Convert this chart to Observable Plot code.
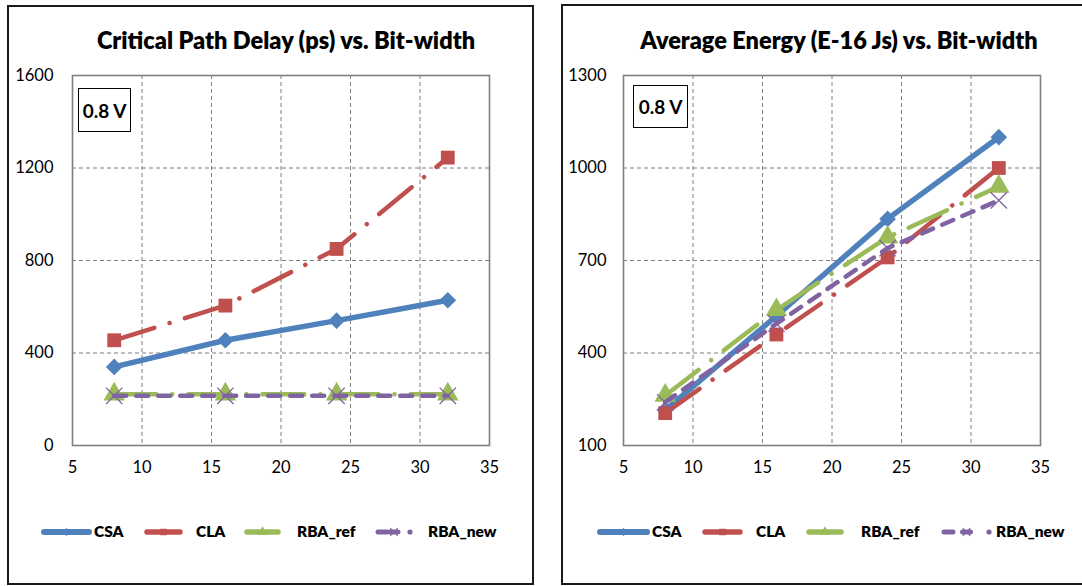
<!DOCTYPE html>
<html>
<head>
<meta charset="utf-8">
<script src="https://cdn.jsdelivr.net/npm/d3@7"></script>
<script src="https://cdn.jsdelivr.net/npm/@observablehq/plot@0.6"></script>
<style>
  html, body { margin: 0; padding: 0; background: #fff; width: 1082px; height: 586px; overflow: hidden; font-family: Lato, "Open Sans", sans-serif; }
  .panel { position: absolute; border: 2px solid #1a1a1a; box-sizing: border-box; background: #fff; }
  .title { position: absolute; font-weight: 800; font-size: 23.5px; white-space: nowrap; transform: translate(-50%, -50%); color: #000; }
  .vbox { position: absolute; border: 1.5px solid #000; box-sizing: border-box; font-weight: bold; font-size: 19px; display: flex; align-items: center; justify-content: center; background: #fff; }
  .chart { position: absolute; top: 0; }
  #overlay { position: absolute; left: 0; top: 0; pointer-events: none; }
</style>
</head>
<body>
<div class="panel" style="left:7px; top:5px; width:527px; height:580px;"></div>
<div class="panel" style="left:561px; top:4px; width:530px; height:581px;"></div>
<div class="chart" id="left" style="left:0px;"></div>
<div class="chart" id="right" style="left:541px;"></div>
<div class="title" style="left:286px; top:40px;">Critical Path Delay (ps) vs. Bit-width</div>
<div class="title" style="left:839px; top:40px;">Average Energy (E-16 Js) vs. Bit-width</div>
<div class="vbox" style="left:78px; top:88px; width:53px; height:44px;">0.8 V</div>
<div class="vbox" style="left:633px; top:85px; width:55px; height:43px;">0.8 V</div>
<svg id="overlay" width="1082" height="586"></svg>
<script>
// ---------------- data ----------------
const bitWidths = [8, 16, 24, 32];
const seriesNames = ["CSA", "CLA", "RBA_ref", "RBA_new"];

// Critical path delay (ps)
const delayCSA    = [340, 455, 540, 628];
const delayCLA    = [455, 605, 850, 1245];
const delayRBAref = [222, 222, 222, 222];
const delayRBAnew = [215, 215, 215, 215];

// Average energy (E-16 Js)
const energyCSA    = [215, 520, 835, 1100];
const energyCLA    = [205, 460, 710, 1000];
const energyRBAref = [262, 540, 775, 940];
const energyRBAnew = [240, 495, 740, 895];

const xTicks = [5, 10, 15, 20, 25, 30, 35];
const delayTicks = [0, 400, 800, 1200, 1600];
const energyTicks = [100, 400, 700, 1000, 1300];

// ---------------- styles ----------------
const styles = {
  CSA:     {color: "#4F81BD", width: 5.5, dash: null,           symbol: "diamond2", r: 7.5},
  CLA:     {color: "#C0504D", width: 4.5, dash: "42,16,0.1,16", symbol: "square",   r: 7.8},
  RBA_ref: {color: "#9BBB59", width: 4.5, dash: "42,16,0.1,16", symbol: "triangle", r: 8},
  RBA_new: {color: "#8064A2", width: 4.5, dash: "12,10",        symbol: "times",    r: 7.5}
};

function toRows(arrays) {
  const rows = [];
  seriesNames.forEach((s, k) => {
    bitWidths.forEach((b, i) => rows.push({series: s, bits: b, value: arrays[k][i]}));
  });
  return rows;
}

function seriesMarks(rows) {
  const marks = [];
  for (const s of seriesNames) {
    const st = styles[s];
    const d = rows.filter(r => r.series === s);
    marks.push(Plot.line(d, {
      x: "bits", y: "value", stroke: st.color, strokeWidth: st.width,
      strokeDasharray: st.dash || undefined, strokeLinecap: "round", strokeLinejoin: "round"
    }));
    if (st.symbol === "times") {
      marks.push(Plot.dot(d, {x: "bits", y: "value", symbol: "times", r: st.r, stroke: st.color, strokeWidth: 1.3, fill: "none"}));
    } else {
      marks.push(Plot.dot(d, {x: "bits", y: "value", symbol: st.symbol, r: st.r, fill: st.color, stroke: "none"}));
    }
  }
  return marks;
}

function makeChart(rows, yDomain, yTicks, opts) {
  return Plot.plot({
    width: opts.width, height: 500,
    marginLeft: opts.ml, marginRight: opts.mr, marginTop: 75, marginBottom: 55,
    style: {fontFamily: "Lato, 'Open Sans', sans-serif", fontSize: "16.5px", color: "#000", background: "transparent", overflow: "visible"},
    x: {domain: [5, 35]},
    y: {domain: yDomain},
    marks: [
      Plot.gridX(xTicks.slice(1, -1), {stroke: "#7f7f7f", strokeOpacity: 1, strokeWidth: 1, strokeDasharray: "4,3"}),
      Plot.gridY(yTicks.slice(1, -1), {stroke: "#7f7f7f", strokeOpacity: 1, strokeWidth: 1, strokeDasharray: "4,3"}),
      Plot.frame({stroke: "#7f7f7f", strokeWidth: 1.6}),
      Plot.axisX({ticks: xTicks, tickSize: 0, tickPadding: 16, label: null, fontSize: 16.5, tickFormat: d => String(d)}),
      Plot.axisY({ticks: yTicks, tickSize: 0, tickPadding: opts.yPad, label: null, fontSize: 16.5, tickFormat: d => String(d)}),
      ...seriesMarks(rows)
    ]
  });
}

const delayRows = toRows([delayCSA, delayCLA, delayRBAref, delayRBAnew]);
const energyRows = toRows([energyCSA, energyCLA, energyRBAref, energyRBAnew]);

document.getElementById("left").append(makeChart(delayRows, [0, 1600], delayTicks, {width: 540, ml: 72, mr: 51, yPad: 19}));
document.getElementById("right").append(makeChart(energyRows, [100, 1300], energyTicks, {width: 541, ml: 82, mr: 42, yPad: 17}));

// ---------------- legends ----------------
const overlay = d3.select("#overlay");
const legendY = 532;
const legendLayouts = [
  [[42, 91, 94], [145, 182, 196], [245, 280, 297], [376, 412, 428]],
  [[598, 649, 652], [703, 742, 756], [807, 843, 861], [942, 991, 996]]
];
const sym = {diamond2: d3.symbolDiamond2, square: d3.symbolSquare, triangle: d3.symbolTriangle, times: d3.symbolTimes};
legendLayouts.forEach(layout => {
  layout.forEach(([x1, x2, tx], k) => {
    const s = seriesNames[k];
    const st = styles[s];
    const g = overlay.append("g");
    if (s === "RBA_new") {
      g.append("line").attr("x1", x1 + 2).attr("x2", x1 + 11).attr("y1", legendY).attr("y2", legendY)
        .attr("stroke", st.color).attr("stroke-width", 5).attr("stroke-linecap", "round");
      g.append("line").attr("x1", (x1 + x2) / 2 - 4).attr("x2", (x1 + x2) / 2 + 4).attr("y1", legendY).attr("y2", legendY)
        .attr("stroke", st.color).attr("stroke-width", 5).attr("stroke-linecap", "round");
      g.append("circle").attr("cx", x2 - 2).attr("cy", legendY).attr("r", 2.6).attr("fill", st.color);
    } else {
      g.append("line").attr("x1", x1 + 2).attr("x2", x2 - 2).attr("y1", legendY).attr("y2", legendY)
        .attr("stroke", st.color).attr("stroke-width", s === "CSA" ? 6 : 5.5).attr("stroke-linecap", "round");
    }
    const size = Math.PI * st.r * st.r * 0.22;
    const p = g.append("path").attr("d", d3.symbol(sym[st.symbol], size)())
      .attr("transform", `translate(${(x1 + x2) / 2},${legendY})`);
    if (st.symbol === "times") p.attr("fill", "none").attr("stroke", st.color).attr("stroke-width", 1.2);
    else p.attr("fill", st.color);
    g.append("text").attr("x", tx).attr("y", legendY).attr("dy", "0.35em")
      .attr("font-family", "Lato, 'Open Sans', sans-serif").attr("font-weight", "800").attr("font-size", 15.5)
      .attr("fill", "#000").text(s);
  });
});
</script>
</body>
</html>
